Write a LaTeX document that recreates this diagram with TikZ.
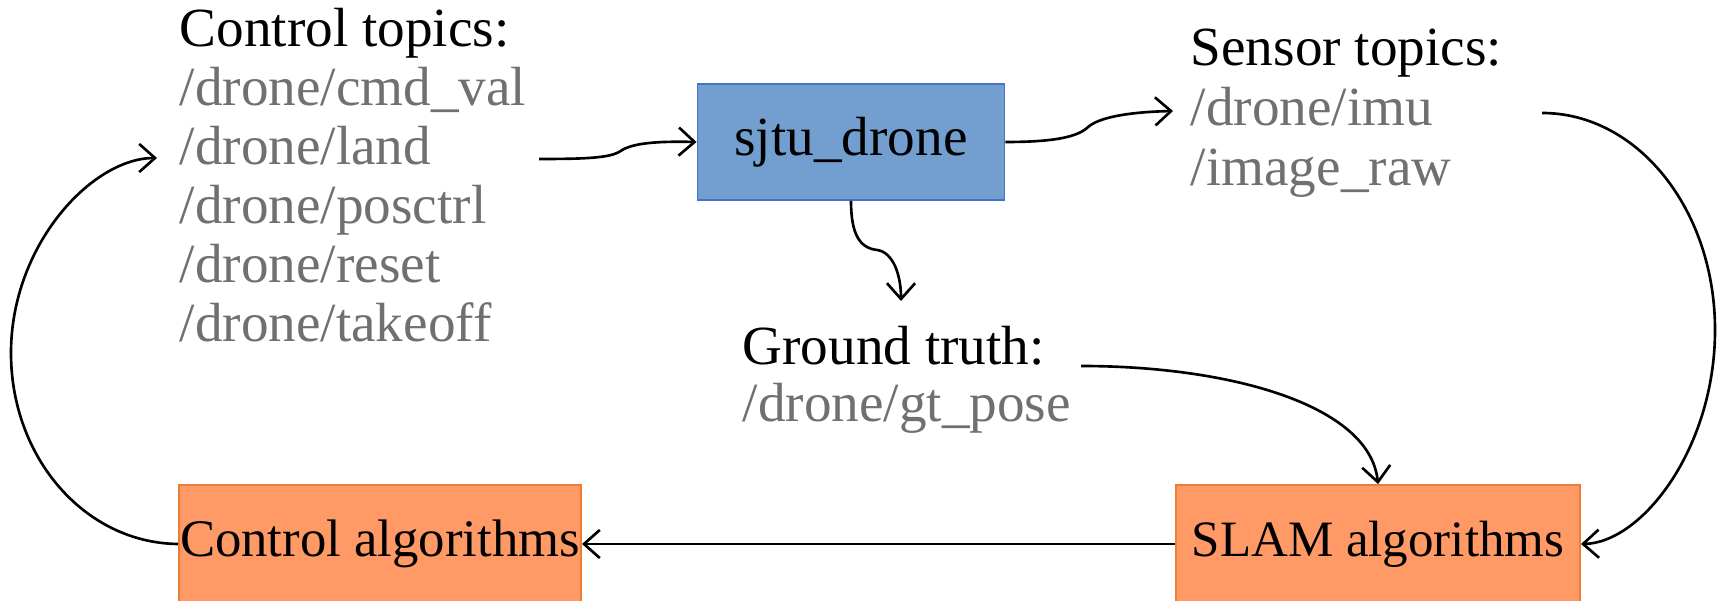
\documentclass[tikz,border=0pt]{standalone}
\usepackage{fontspec}
\setmainfont{Liberation Serif}
\usetikzlibrary{arrows.meta}
\definecolor{topicgray}{RGB}{112,112,112}
\definecolor{bluefill}{RGB}{114,159,207}
\definecolor{blueline}{RGB}{68,114,196}
\definecolor{orangefill}{RGB}{255,153,102}
\definecolor{orangeline}{RGB}{237,125,49}
\begin{document}
\begin{tikzpicture}[x=0.01cm,y=-0.01cm,
  txt/.style={inner sep=0pt, anchor=base west, font=\fontsize{15.7}{18}\selectfont},
  headtxt/.style={txt, text=black},
  topic/.style={txt, text=topicgray},
  box/.style={draw, line width=0.5pt, inner sep=0pt, font=\fontsize{15}{18}\selectfont},
  bluebox/.style={box, fill=bluefill, draw=blueline},
  algbox/.style={box, fill=orangefill, draw=orangeline},
  conn/.style={line width=0.75pt, -{Straight Barb[length=4.5pt,width=8pt]}},
]
\useasboundingbox (0,0) rectangle (1719,601);
\clip (0,0) rectangle (1719,601);

% Control topics
\node[headtxt] (ct) at (179,47) {Control topics:};
\node[topic] (cmd) at (179,106) {/drone/cmd\_val};
\node[topic] (land) at (179,165) {/drone/land};
\node[topic] (posctrl) at (179,224) {/drone/posctrl};
\node[topic] (reset) at (179,283) {/drone/reset};
\node[topic] (takeoff) at (179,342) {/drone/takeoff};

% Sensor topics
\node[headtxt] (st) at (1190,66) {Sensor topics:};
\node[topic] (imu) at (1190,126) {/drone/imu};
\node[topic] (raw) at (1190,186) {/image\_raw};

% Ground truth
\node[headtxt] (gt) at (742,365) {Ground truth:};
\node[topic] (gtpose) at (742,422) {/drone/gt\_pose};

% Boxes
\node[bluebox, font=\fontsize{15.7}{18}\selectfont, minimum width=3.07cm, minimum height=1.16cm] (sjtu) at (851,142) {sjtu\_drone};
\node[algbox, font=\fontsize{14.5}{18}\selectfont, minimum width=4.04cm, minimum height=1.18cm] (slam) at (1378,544) {SLAM algorithms};
\node[algbox, minimum width=4.02cm, minimum height=1.18cm] (ctrl) at (380,544) {Control algorithms};

% connector end points
\coordinate (landout) at (539,159);
\coordinate (landin) at (157,158);
\coordinate (imuin) at (1173,111);
\coordinate (imuout) at (1542,113);
\coordinate (gtin) at (901,301);
\coordinate (gtout) at (1081,366);

% land -> sjtu
\draw[conn] (landout) .. controls (585,159) and (608,158) .. (619,152)
  .. controls (630,144) and (650,141) .. (sjtu.west);
% sjtu -> imu
\draw[conn] (sjtu.east) .. controls (1050,142) and (1075,138) .. (1087,128)
  .. controls (1098,117) and (1130,112) .. (imuin);
% sjtu -> ground truth
\draw[conn] (sjtu.south) .. controls (851,235) and (860,248) .. (877,250)
  .. controls (893,252) and (901,275) .. (gtin);
% ground truth -> SLAM
\draw[conn] (gtout) .. controls (1230,366) and (1370,405) .. (slam.north);
% imu -> SLAM
\draw[conn] (imuout) .. controls (1638,113) and (1715,210) .. (1715,330)
  .. controls (1715,448) and (1642,543) .. (slam.east);
% SLAM -> Control
\draw[conn] (slam.west) -- (ctrl.east);
% Control -> control topics
\draw[conn] (ctrl.west) .. controls (85,543) and (11,458) .. (11,353)
  .. controls (11,245) and (92,158) .. (landin);
\end{tikzpicture}
\end{document}
